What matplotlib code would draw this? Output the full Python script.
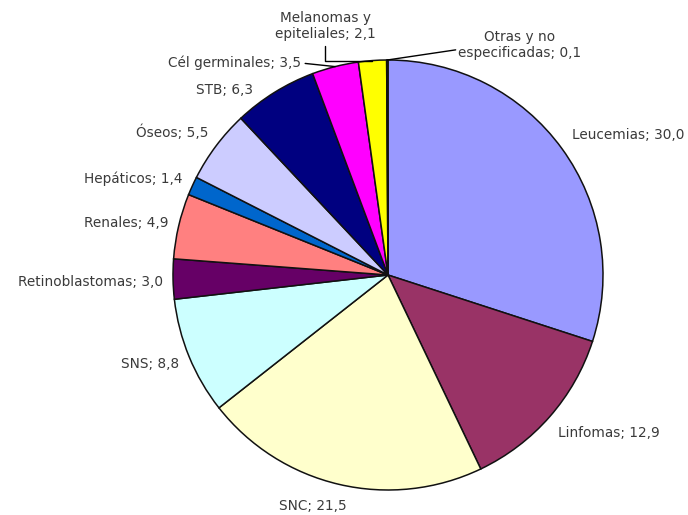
import numpy as np
import matplotlib.pyplot as plt

categorias = ['Leucemias', 'Linfomas', 'SNC', 'SNS', 'Retinoblastomas', 'Renales',
              'Hepáticos', 'Óseos', 'STB', 'Cél germinales',
              'Melanomas y\nepiteliales', 'Otras y no\nespecificadas']
valores = [30.0, 12.9, 21.5, 8.8, 3.0, 4.9, 1.4, 5.5, 6.3, 3.5, 2.1, 0.1]
colores = ['#9999FF', '#993366', '#FFFFCC', '#CCFFFF', '#660066', '#FF8080',
           '#0066CC', '#CCCCFF', '#000080', '#FF00FF', '#FFFF00', '#00FFFF']

W, H = 688, 515
CX, CY, R = 388, 275, 215


def px(x, y):
    # pixel position -> data coords (pie radius = 1)
    return ((x - CX) / R, (CY - y) / R)


plt.rcParams['font.family'] = ['DejaVu Sans']
fig = plt.figure(figsize=(W / 100, H / 100), dpi=100)
ax = fig.add_axes([0, 0, 1, 1])

wedges, _ = ax.pie(valores, colors=colores, startangle=90, counterclock=False,
                   radius=1, wedgeprops=dict(edgecolor='#111111', linewidth=1.1))

ax.set_xlim(-CX / R, (W - CX) / R)
ax.set_ylim(-(H - CY) / R, CY / R)
ax.set_aspect('equal')
ax.axis('off')

# label placement (pixels): x, y, ha
pos = [
    (572, 135, 'left'),
    (558, 433, 'left'),
    (313, 506, 'center'),
    (179, 364, 'right'),
    (163, 282, 'right'),
    (169, 223, 'right'),
    (183, 179, 'right'),
    (208, 132, 'right'),
    (253, 90, 'right'),
    (301, 63, 'right'),
    (325, 26, 'center'),
    (520, 45, 'center'),
]

txt = dict(fontsize=9.8, color='#3a3a3a', va='center', linespacing=1.15)
for i, (cat, val) in enumerate(zip(categorias, valores)):
    etiqueta = '{}; {}'.format(cat, ('%.1f' % val).replace('.', ','))
    x, y, ha = pos[i]
    w = wedges[i]
    ang = np.deg2rad((w.theta1 + w.theta2) / 2)
    edge = (np.cos(ang), np.sin(ang))
    if i == 9:
        ax.annotate(etiqueta, xy=edge, xytext=px(x, y), ha=ha,
                    arrowprops=dict(arrowstyle='-', color='black', lw=1,
                                    relpos=(1, 0.5), shrinkA=1, shrinkB=0), **txt)
    elif i == 10:
        ax.annotate(etiqueta, xy=edge, xytext=px(x, y), ha=ha,
                    arrowprops=dict(arrowstyle='-', color='black', lw=1,
                                    relpos=(0.5, 0), shrinkA=2, shrinkB=0,
                                    connectionstyle='angle,angleA=90,angleB=0,rad=0'),
                    **txt)
    elif i == 11:
        ax.annotate(etiqueta, xy=edge, xytext=px(x, y), ha=ha,
                    arrowprops=dict(arrowstyle='-', color='black', lw=1,
                                    relpos=(0, 0.35), shrinkA=0, shrinkB=0), **txt)
    else:
        ax.text(*px(x, y), etiqueta, ha=ha, **txt)

plt.savefig('out.png', dpi=100)
